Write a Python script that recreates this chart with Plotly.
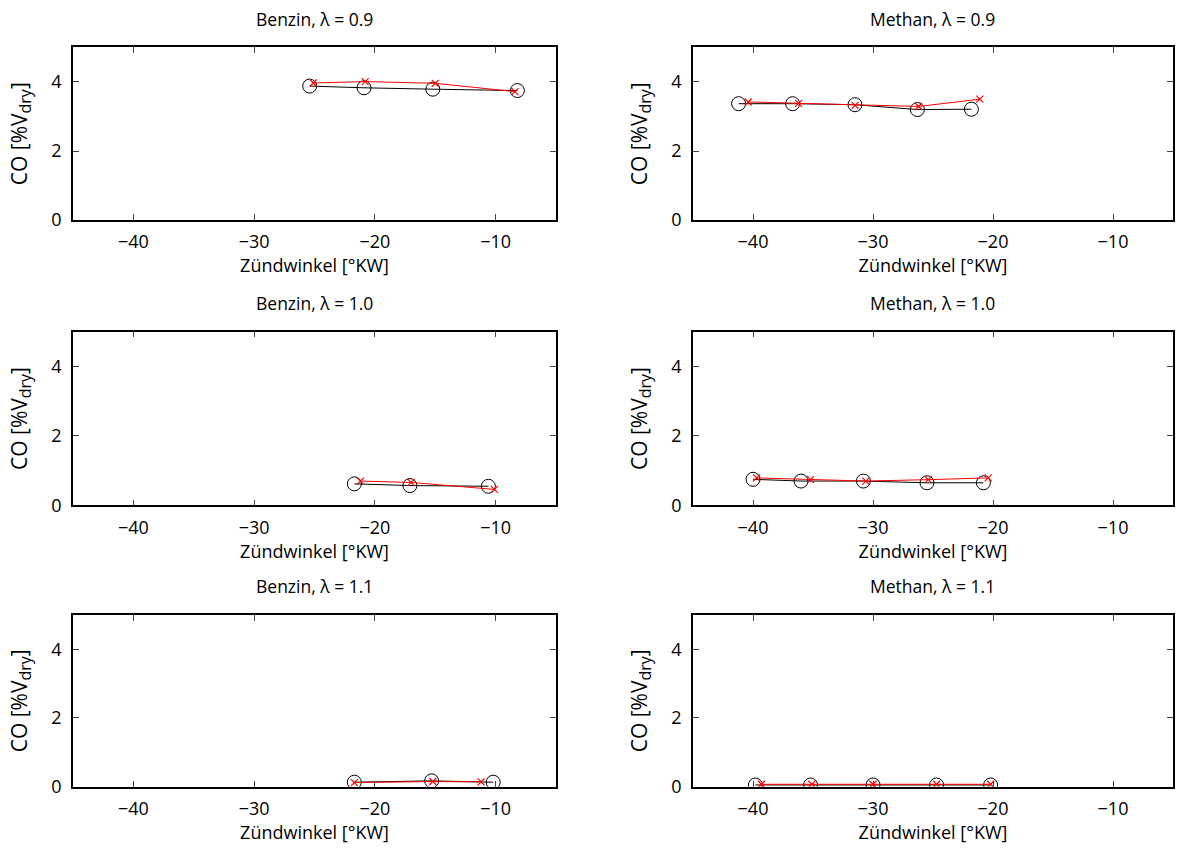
import plotly.graph_objects as go
from plotly.subplots import make_subplots

# ---- data ----
titles = ["Benzin, λ = 0.9", "Methan, λ = 0.9",
          "Benzin, λ = 1.0", "Methan, λ = 1.0",
          "Benzin, λ = 1.1", "Methan, λ = 1.1"]

# black series (circles)
meas_x_b09 = [-25.4, -20.9, -15.2, -8.2]
meas_y_b09 = [3.88, 3.83, 3.79, 3.75]
meas_x_m09 = [-41.2, -36.7, -31.5, -26.3, -21.8]
meas_y_m09 = [3.37, 3.37, 3.34, 3.20, 3.21]
meas_x_b10 = [-21.7, -17.1, -10.6]
meas_y_b10 = [0.62, 0.57, 0.55]
meas_x_m10 = [-40.0, -36.0, -30.8, -25.5, -20.8]
meas_y_m10 = [0.75, 0.70, 0.70, 0.65, 0.65]
meas_x_b11 = [-21.7, -15.3, -10.2]
meas_y_b11 = [0.13, 0.17, 0.13]
meas_x_m11 = [-39.8, -35.2, -30.0, -24.7, -20.2]
meas_y_m11 = [0.05, 0.05, 0.05, 0.05, 0.05]

# red series (crosses)
sim_x_b09 = [-25.1, -20.8, -15.0, -8.4]
sim_y_b09 = [3.97, 4.01, 3.96, 3.72]
sim_x_m09 = [-40.4, -36.2, -31.5, -26.2, -21.1]
sim_y_m09 = [3.42, 3.38, 3.32, 3.29, 3.50]
sim_x_b10 = [-21.2, -17.0, -10.1]
sim_y_b10 = [0.70, 0.66, 0.46]
sim_x_m10 = [-39.7, -35.2, -30.6, -25.4, -20.4]
sim_y_m10 = [0.79, 0.74, 0.70, 0.74, 0.79]
sim_x_b11 = [-21.7, -15.2, -11.2]
sim_y_b11 = [0.12, 0.15, 0.14]
sim_x_m11 = [-39.3, -35.1, -30.0, -24.7, -20.2]
sim_y_m11 = [0.07, 0.07, 0.07, 0.07, 0.07]

meas = [(meas_x_b09, meas_y_b09), (meas_x_m09, meas_y_m09),
        (meas_x_b10, meas_y_b10), (meas_x_m10, meas_y_m10),
        (meas_x_b11, meas_y_b11), (meas_x_m11, meas_y_m11)]
sim = [(sim_x_b09, sim_y_b09), (sim_x_m09, sim_y_m09),
       (sim_x_b10, sim_y_b10), (sim_x_m10, sim_y_m10),
       (sim_x_b11, sim_y_b11), (sim_x_m11, sim_y_m11)]

x_ticks = [-40, -30, -20, -10]
y_ticks = [0, 2, 4]
x_label = "Zündwinkel [°KW]"
y_label = 'CO [%V<sub><span style="font-size:16px">dry</span></sub>]'

W, H = 1192, 850
FONT = "Open Sans"

fig = make_subplots(rows=3, cols=2)

xdom = [[73 / W, 556 / W], [693 / W, 1173 / W]]
ypix = [(48, 223), (336, 512), (623, 797)]
ydom = [[1 - b / H, 1 - t / H] for t, b in ypix]

for i in range(6):
    r, c = i // 2 + 1, i % 2 + 1
    mx, my = meas[i]
    sx, sy = sim[i]
    fig.add_trace(go.Scatter(x=mx, y=my, mode="lines+markers",
                             line=dict(color="black", width=1),
                             marker=dict(symbol="circle-open", size=14,
                                         color="black", line=dict(width=1)),
                             showlegend=False), row=r, col=c)
    fig.add_trace(go.Scatter(x=sx, y=sy, mode="lines+markers",
                             line=dict(color="red", width=1),
                             marker=dict(symbol="x-thin", size=7,
                                         color="red", line=dict(width=1.2, color="red")),
                             showlegend=False), row=r, col=c)
    fig.update_xaxes(row=r, col=c, domain=xdom[c - 1], range=[-45, -5],
                     tickvals=x_ticks, ticks="inside", ticklen=6,
                     ticklabelstandoff=5,
                     showline=True, linecolor="black", linewidth=1.5, mirror="ticks",
                     showgrid=False, zeroline=False,
                     tickfont=dict(family=FONT, size=18, color="black"),
                     title=dict(text=x_label, standoff=0,
                                font=dict(family=FONT, size=18, color="black")))
    fig.update_yaxes(row=r, col=c, domain=ydom[r - 1], range=[0, 5],
                     tickvals=y_ticks, ticks="inside", ticklen=6,
                     ticklabelstandoff=6,
                     showline=True, linecolor="black", linewidth=1.5, mirror="ticks",
                     showgrid=False, zeroline=False,
                     tickfont=dict(family=FONT, size=18, color="black"),
                     title=dict(text=y_label, standoff=18,
                                font=dict(family=FONT, size=21, color="black")))
    xc = (xdom[c - 1][0] + xdom[c - 1][1]) / 2
    fig.add_annotation(text=titles[i], x=xc, y=ydom[r - 1][1] + 29 / H,
                       xref="paper", yref="paper", showarrow=False,
                       xanchor="center", yanchor="middle",
                       font=dict(family=FONT, size=17.5, color="black"))

fig.update_layout(width=W, height=H, margin=dict(l=0, r=0, t=0, b=0),
                  paper_bgcolor="white", plot_bgcolor="white",
                  font=dict(family=FONT, color="black"))

fig.write_html("out.html")
